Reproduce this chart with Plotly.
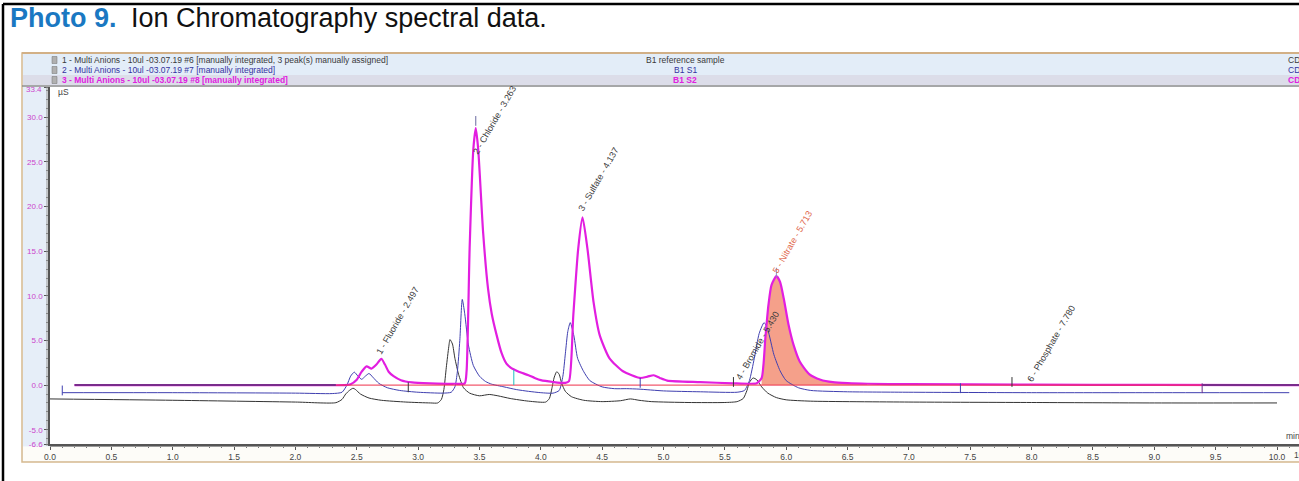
import math
import plotly.graph_objects as go

# ---------------- data ----------------
# Trace 1 : B1 reference sample (dark grey)
ref_t = [0.0, 1.0, 2.0, 2.33, 2.38, 2.41, 2.44, 2.47, 2.49, 2.53, 2.6, 2.7, 2.9, 3.1, 3.16,
         3.19, 3.21, 3.23, 3.25, 3.26, 3.28, 3.30, 3.33, 3.37, 3.42, 3.5, 3.58, 3.65, 3.75, 3.9, 4.04,
         4.07, 4.09, 4.11, 4.13, 4.15, 4.17, 4.2, 4.25, 4.35, 4.5, 4.65, 4.73, 4.8, 4.9, 5.2, 5.5,
         5.6, 5.65, 5.68, 5.70, 5.73, 5.76, 5.8, 5.85, 5.92, 6.0, 6.2, 7.0, 8.0, 9.0, 10.0]
ref_v = [-1.55, -1.7, -1.9, -1.97, -1.6, -1.0, -0.6, -0.35, -0.5, -1.0, -1.45, -1.7, -1.9, -2.0, -2.0,
         -1.6, -0.5, 2.0, 4.3, 5.1, 4.6, 3.0, 1.2, -0.3, -0.9, -1.2, -1.05, -1.2, -1.5, -1.8, -1.9,
         -1.5, -0.4, 0.9, 1.5, 1.2, 0.2, -0.7, -1.3, -1.7, -1.85, -1.75, -1.55, -1.7, -1.85, -1.95, -1.95,
         -1.85, -1.5, -0.6, 0.3, 0.8, 0.6, -0.2, -0.9, -1.4, -1.65, -1.8, -1.9, -1.95, -2.0, -2.0]

# Trace 2 : B1 S1 (blue)
s1_t = [0.1, 1.0, 2.0, 2.3, 2.38, 2.42, 2.45, 2.48, 2.51, 2.54, 2.57, 2.6, 2.63, 2.68, 2.75, 2.85,
        3.0, 3.2, 3.27, 3.30, 3.32, 3.34, 3.36, 3.38, 3.41, 3.45, 3.5, 3.55, 3.6, 3.7, 3.8, 3.9,
        4.0, 4.1, 4.15, 4.18, 4.20, 4.22, 4.24, 4.27, 4.30, 4.35, 4.4, 4.5, 4.6, 4.7, 4.8, 5.0,
        5.3, 5.6, 5.66, 5.70, 5.74, 5.78, 5.82, 5.85, 5.9, 5.95, 6.0, 6.1, 6.2, 6.5, 7.0, 8.0,
        9.0, 10.1]
s1_v = [-0.85, -0.85, -0.9, -0.95, -0.8, 0.0, 1.0, 1.45, 1.0, 0.65, 1.0, 1.3, 0.9, 0.2, -0.3, -0.6,
        -0.8, -0.9, -0.8, -0.2, 1.5, 5.0, 9.6, 8.0, 4.5, 2.2, 1.0, 0.4, 0.1, -0.2, -0.5, -0.7,
        -0.85, -0.9, -0.6, 1.0, 3.5, 6.0, 7.0, 5.5, 3.0, 1.5, 0.5, -0.2, -0.4, -0.4, -0.45, -0.65,
        -0.75, -0.8, -0.6, 0.5, 3.0, 5.8, 7.0, 6.2, 3.4, 1.6, 0.5, -0.3, -0.6, -0.75, -0.8, -0.85,
        -0.85, -0.85]

# Trace 3 : B1 S2 (magenta)
s2_t = [0.2, 1.0, 2.0, 2.4, 2.45, 2.5, 2.54, 2.58, 2.62, 2.66, 2.70, 2.73, 2.76, 2.8, 2.86, 2.95,
        3.1, 3.3, 3.38, 3.395, 3.42, 3.45, 3.47, 3.49, 3.53, 3.57, 3.60, 3.64, 3.68, 3.72, 3.76,
        3.79, 3.85, 3.9, 3.95, 4.0, 4.1, 4.2, 4.23, 4.265, 4.305, 4.34, 4.38, 4.43, 4.48, 4.56,
        4.67, 4.81, 4.87, 4.92, 4.97, 5.03, 5.3, 5.57, 5.7, 5.76, 5.80, 5.83, 5.855, 5.88, 5.92,
        5.95, 5.98, 6.02, 6.06, 6.11, 6.19, 6.28, 6.38, 6.5, 6.66, 7.0, 8.0, 9.0, 10.2]
s2_v = [0.0, 0.0, 0.0, 0.0, 0.1, 0.6, 1.5, 2.1, 1.85, 2.3, 2.95, 2.3, 1.5, 1.0, 0.55, 0.3,
        0.2, 0.15, 0.2, 1.55, 15.3, 26.4, 28.8, 26.4, 17.1, 10.8, 8.0, 5.6, 3.6, 2.4, 1.9,
        1.7, 1.35, 1.1, 0.8, 0.55, 0.35, 0.25, 0.45, 7.85, 15.3, 18.8, 15.3, 9.3, 5.6, 3.0,
        1.55, 0.8, 0.95, 1.1, 0.8, 0.5, 0.33, 0.2, 0.15, 0.2, 0.8, 5.25, 8.95, 11.2, 12.2,
        11.55, 9.7, 6.7, 4.5, 2.65, 1.2, 0.6, 0.33, 0.22, 0.15, 0.1, 0.05, 0.02, 0.0]

# Peak labels (base point of each rotated label)
peak_names = ["1 - Fluoride - 2.497", "2 - Chloride - 3.263", "3 - Sulfate - 4.137",
              "4 - Bromide - 5.430", "5 - Nitrate - 5.713", "6 - Phosphate - 7.780"]
peak_t = [2.70, 3.49, 4.35, 5.63, 5.93, 8.01]
peak_v = [3.3, 25.8, 19.4, 0.5, 12.5, 0.3]

# Integration / peak markers (small vertical ticks)
mark_t = [0.1, 2.92, 4.81, 5.57, 7.42, 7.84, 9.39, 3.47, 5.92]
mark_v = [-0.6, -0.25, 0.25, 0.35, -0.35, 0.35, -0.35, 29.6, 12.6]
mark_c = ["#3f3fb0", "#333333", "#3f3fb0", "#333333", "#3f3fb0", "#333333", "#6a2c8c", "#6a6aa0", "#8a8ac0"]

# Nitrate integrated area limits
fill_from, fill_to = 5.78, 6.75

# Header (chromatogram list)
hdr_left = ["1 - Multi Anions - 10ul -03.07.19 #6 [manually integrated, 3 peak(s) manually assigned]",
            "2 - Multi Anions - 10ul -03.07.19 #7 [manually integrated]",
            "3 - Multi Anions - 10ul -03.07.19 #8 [manually integrated]"]
hdr_mid = ["B1 reference sample", "B1 S1", "B1 S2"]
hdr_right = ["CD", "CD", "CD"]

y_ticks = [-6.6, -5.0, 0.0, 5.0, 10.0, 15.0, 20.0, 25.0, 30.0, 33.4]
x_ticks = [i * 0.5 for i in range(21)]

# ---------------- geometry helpers ----------------
PL, PR, PT, PB = 50, 1299, 87, 444
XMAX = (PR - PL) / 122.7


def PX(px):
    return (px - PL) / (PR - PL)


def PY(py):
    return (PB - py) / (PB - PT)


AW = {c: 0.556 for c in "0123456789"}
AW.update({' ': 0.278, '-': 0.333, '.': 0.278, 'F': 0.611, 'l': 0.222, 'u': 0.556, 'o': 0.556,
           'r': 0.333, 'i': 0.222, 'd': 0.556, 'e': 0.556, 'C': 0.722, 'h': 0.556, 'S': 0.667,
           'f': 0.278, 'a': 0.556, 't': 0.278, 'B': 0.667, 'm': 0.833, 'N': 0.722, 'P': 0.667,
           's': 0.5, 'p': 0.556})


def tw(s, size):
    return sum(AW.get(c, 0.55) for c in s) * size


C_REF = "#333333"
C_S1 = "#3f3fb0"
C_S2 = "#e21ee0"
C_FILL = "#f5a08a"
SPL = dict(shape="spline", smoothing=0.6)

fig = go.Figure()

# nitrate filled area
ft = [t for t in s2_t if fill_from <= t <= fill_to]
fv = [v for t, v in zip(s2_t, s2_v) if fill_from <= t <= fill_to]
fig.add_trace(go.Scatter(x=ft, y=fv, mode="lines", fill="tozeroy", fillcolor=C_FILL,
                         line=dict(width=0, color=C_FILL, **SPL), hoverinfo="skip"))

fig.add_trace(go.Scatter(x=ref_t, y=ref_v, mode="lines", line=dict(color=C_REF, width=1, **SPL)))
fig.add_trace(go.Scatter(x=s1_t, y=s1_v, mode="lines", line=dict(color=C_S1, width=1, **SPL)))
fig.add_trace(go.Scatter(x=s2_t, y=s2_v, mode="lines", line=dict(color=C_S2, width=2.2, **SPL)))

# baselines of sample 3 drawn over the flat parts
fig.add_trace(go.Scatter(x=[s2_t[0], 2.33, None, 9.39, XMAX], y=[0, 0, None, 0.02, 0.02],
                         mode="lines", line=dict(color="#7a2c8c", width=2)))
fig.add_trace(go.Scatter(x=[2.33, 9.39], y=[0, 0], mode="lines",
                         line=dict(color="#ee3048", width=1)))

# small ticks
fig.add_trace(go.Scatter(x=mark_t, y=mark_v, mode="markers",
                         marker=dict(symbol="line-ns-open", size=7, color=mark_c,
                                     line=dict(width=1, color=mark_c))))
fig.add_trace(go.Scatter(x=[3.78, 3.78], y=[0, 1.7], mode="lines", line=dict(color="#20c0c0", width=1)))

annotations = []
# peak labels
for name, t, v in zip(peak_names, peak_t, peak_v):
    L = tw(name, 9)
    ang = math.radians(60)
    d = 3.2
    annotations.append(dict(x=t, y=v, xref="x", yref="y", text=name, showarrow=False,
                            textangle=-60, xanchor="center", yanchor="middle",
                            xshift=L / 2 * math.cos(ang) - d * math.sin(ang),
                            yshift=L / 2 * math.sin(ang) + d * math.cos(ang),
                            font=dict(family="Arial", size=9,
                                      color="#e0654a" if "Nitrate" in name else "#3a3a3a")))

# title
TFS = 27
bw = sum({'P': 0.667, 'h': 0.611, 'o': 0.611, 't': 0.333, ' ': 0.278, '9': 0.556, '.': 0.278}[c]
         for c in "Photo 9.") * TFS
annotations.append(dict(x=PX(8), y=PY(18), xref="paper", yref="paper", text="<b>Photo 9.</b>",
                        showarrow=False, xanchor="left", yanchor="middle",
                        font=dict(family="Arial", size=TFS, color="#1a78c2")))
annotations.append(dict(x=PX(8 + bw + 14), y=PY(18), xref="paper", yref="paper",
                        text="Ion Chromatography spectral data.",
                        showarrow=False, xanchor="left", yanchor="middle",
                        font=dict(family="Arial", size=TFS, color="#111111")))

# header rows
row_y = [60, 70, 80]
row_col = ["#3a3a3a", "#3333a0", "#e020e0"]
for i in range(3):
    bold = i == 2
    for txt, x, anc in [(hdr_left[i], 60, "left"), (hdr_mid[i], 685, "center"), (hdr_right[i], 1286, "left")]:
        annotations.append(dict(x=PX(x), y=PY(row_y[i]), xref="paper", yref="paper",
                                text=("<b>%s</b>" % txt) if bold else txt, showarrow=False,
                                xanchor=anc, yanchor="middle",
                                font=dict(family="Arial", size=8.5, color=row_col[i])))

# unit labels
annotations.append(dict(x=PX(56), y=PY(92), xref="paper", yref="paper", text="µS", showarrow=False,
                        xanchor="left", yanchor="middle", font=dict(family="Arial", size=8.5, color="#444")))
annotations.append(dict(x=PX(1284), y=PY(436), xref="paper", yref="paper", text="min", showarrow=False,
                        xanchor="left", yanchor="middle", font=dict(family="Arial", size=8.5, color="#444")))
annotations.append(dict(x=PX(1292), y=PY(455), xref="paper", yref="paper", text="10.2", showarrow=False,
                        xanchor="left", yanchor="middle", font=dict(family="Arial", size=8.5, color="#444")))
# top y label (kept clear of the header line)
annotations.append(dict(x=PX(44), y=PY(89), xref="paper", yref="paper", text="%.1f" % y_ticks[-1],
                        showarrow=False, xanchor="right", yanchor="middle",
                        font=dict(family="Arial", size=8, color="#cc44cc")))

shapes = []
# panel background
shapes.append(dict(type="rect", xref="paper", yref="paper", x0=PX(22), x1=PX(1305), y0=PY(462), y1=PY(53),
                   fillcolor="#f3f6fa", line=dict(color="#d6b98e", width=1.5), layer="below"))
shapes.append(dict(type="rect", xref="paper", yref="paper", x0=PX(23), x1=PX(47), y0=PY(446), y1=PY(87),
                   fillcolor="#e6eef8", line=dict(width=0), layer="below"))
shapes.append(dict(type="rect", xref="paper", yref="paper", x0=PX(23), x1=PX(1305), y0=PY(461), y1=PY(447),
                   fillcolor="#fdfcf8", line=dict(width=0), layer="below"))
# white plotting area
shapes.append(dict(type="rect", xref="paper", yref="paper", x0=0, x1=1.01, y0=0, y1=1,
                   fillcolor="white", line=dict(width=0), layer="below"))
# header rows
for y0, y1, col in [(54, 65, "#e3edf8"), (65, 75, "#e3edf8"), (75, 85, "#dcdde9")]:
    shapes.append(dict(type="rect", xref="paper", yref="paper", x0=PX(23), x1=PX(1305), y0=PY(y1), y1=PY(y0),
                       fillcolor=col, line=dict(width=0), layer="below"))
shapes.append(dict(type="line", xref="paper", yref="paper", x0=PX(22), x1=PX(1305), y0=PY(53), y1=PY(53),
                   line=dict(color="#d2b086", width=2)))
shapes.append(dict(type="line", xref="paper", yref="paper", x0=PX(22), x1=PX(1305), y0=PY(86), y1=PY(86),
                   line=dict(color="#8c8c8c", width=1.5)))
# row icons
for y in row_y:
    shapes.append(dict(type="rect", xref="paper", yref="paper", x0=PX(52), x1=PX(57), y0=PY(y + 3.5),
                       y1=PY(y - 3.5), fillcolor="#b0b0b0", line=dict(color="#707070", width=0.5)))
# outer document frame
shapes.append(dict(type="line", xref="paper", yref="paper", x0=PX(3), x1=PX(3), y0=PY(4), y1=PY(482),
                   line=dict(color="black", width=2.5)))
shapes.append(dict(type="line", xref="paper", yref="paper", x0=PX(3), x1=PX(1305), y0=PY(4), y1=PY(4),
                   line=dict(color="black", width=2.5)))
# double axis lines
shapes.append(dict(type="line", xref="paper", yref="paper", x0=PX(47), x1=PX(47), y0=PY(446), y1=PY(87),
                   line=dict(color="#9a9a9a", width=1)))
shapes.append(dict(type="line", xref="paper", yref="paper", x0=PX(50), x1=PX(1305), y0=PY(446.5), y1=PY(446.5),
                   line=dict(color="#9a9a9a", width=1)))

fig.update_layout(
    width=1299, height=481,
    margin=dict(l=PL, r=1299 - PR, t=PT, b=481 - PB),
    paper_bgcolor="white", plot_bgcolor="white",
    showlegend=False,
    annotations=annotations, shapes=shapes,
    xaxis=dict(range=[0, XMAX], showgrid=False, zeroline=False, showline=True, linecolor="#555555",
               linewidth=1.5, tickmode="array", tickvals=x_ticks,
               ticktext=["%.1f" % v for v in x_ticks], ticks="outside", ticklen=4, tickwidth=1,
               tickcolor="#555", tickfont=dict(family="Arial", size=8.5, color="#444"),
               minor=dict(dtick=0.1, tick0=0, ticks="outside", ticklen=2, tickcolor="#777", showgrid=False)),
    yaxis=dict(range=[-6.6, 33.4], showgrid=False, zeroline=False, showline=True, linecolor="#555555",
               linewidth=1.5, tickmode="array", tickvals=y_ticks,
               ticktext=["%.1f" % v for v in y_ticks[:-1]] + [""], ticks="outside", ticklen=4, tickwidth=1,
               tickcolor="#555", tickfont=dict(family="Arial", size=8, color="#cc44cc"),
               minor=dict(dtick=1, tick0=0, ticks="outside", ticklen=2, tickcolor="#777", showgrid=False)),
)

fig.write_html("out.html")
